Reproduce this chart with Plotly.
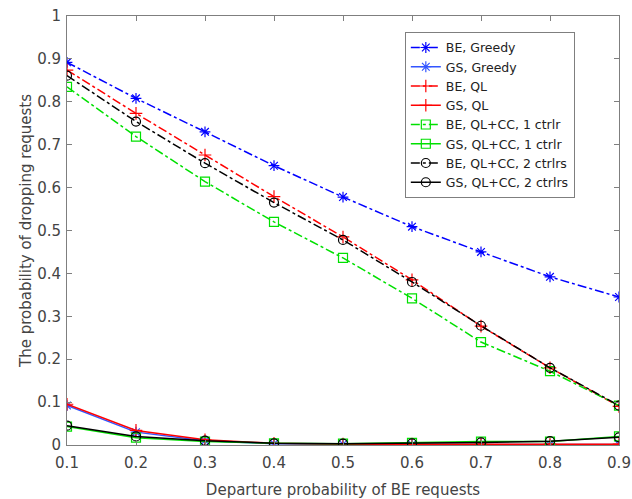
import plotly.graph_objects as go

# departure probability of BE requests
departure = [0.1, 0.2, 0.3, 0.4, 0.5, 0.6, 0.7, 0.8, 0.9]

be_greedy = [0.892, 0.808, 0.730, 0.651, 0.578, 0.509, 0.450, 0.392, 0.345]
gs_greedy = [0.092, 0.030, 0.010, 0.003, 0.002, 0.001, 0.001, 0.001, 0.001]
be_ql = [0.874, 0.773, 0.676, 0.579, 0.485, 0.385, 0.277, 0.180, 0.090]
gs_ql = [0.095, 0.034, 0.012, 0.004, 0.002, 0.002, 0.002, 0.002, 0.002]
be_cc1 = [0.835, 0.719, 0.614, 0.520, 0.436, 0.342, 0.240, 0.172, 0.092]
gs_cc1 = [0.043, 0.017, 0.008, 0.004, 0.003, 0.005, 0.008, 0.008, 0.020]
be_cc2 = [0.861, 0.754, 0.657, 0.565, 0.478, 0.380, 0.278, 0.180, 0.092]
gs_cc2 = [0.045, 0.020, 0.010, 0.004, 0.003, 0.004, 0.006, 0.009, 0.018]

y_ticks = [0, 0.1, 0.2, 0.3, 0.4, 0.5, 0.6, 0.7, 0.8, 0.9, 1]
y_ticktext = ["0", "0.1", "0.2", "0.3", "0.4", "0.5", "0.6", "0.7", "0.8", "0.9", "1"]

series = [
    ("BE, Greedy", be_greedy, "#0000ff", "dashdot", "asterisk-open"),
    ("GS, Greedy", gs_greedy, "#3355ff", "solid", "asterisk-open"),
    ("BE, QL", be_ql, "#ff0000", "dashdot", "cross-thin-open"),
    ("GS, QL", gs_ql, "#ff0000", "solid", "cross-thin-open"),
    ("BE, QL+CC, 1 ctrlr", be_cc1, "#00e000", "dashdot", "square-open"),
    ("GS, QL+CC, 1 ctrlr", gs_cc1, "#00e000", "solid", "square-open"),
    ("BE, QL+CC, 2 ctrlrs", be_cc2, "#000000", "dashdot", "circle-open"),
    ("GS, QL+CC, 2 ctrlrs", gs_cc2, "#000000", "solid", "circle-open"),
]

fig = go.Figure()
for name, vals, color, dash, sym in series:
    fig.add_trace(go.Scatter(
        x=departure, y=vals, name=name, mode="lines+markers",
        line=dict(color=color, width=1.5, dash=dash),
        marker=dict(symbol=sym, size=9, color=color, line=dict(color=color, width=1.2)),
    ))

axis_style = dict(
    showline=True, linecolor="#7f7f7f", linewidth=1, mirror="ticks",
    ticks="inside", ticklen=5, tickcolor="#7f7f7f", showgrid=False, zeroline=False,
    tickfont=dict(size=15, color="#444444"), automargin=False,
)
fig.update_xaxes(range=[0.1, 0.9], dtick=0.1, tickformat=".1f", ticklabelstandoff=4,
                 title=dict(text="Departure probability of BE requests",
                            font=dict(size=15, color="#444444")),
                 **axis_style)
fig.update_yaxes(range=[0, 1], tickvals=y_ticks, ticktext=y_ticktext, ticklabelstandoff=2,
                 title=dict(text="The probability of dropping requests", standoff=1,
                            font=dict(size=15, color="#444444")),
                 **axis_style)

fig.update_layout(
    width=632, height=499,
    margin=dict(l=67, r=13, t=16, b=54),
    paper_bgcolor="white", plot_bgcolor="white",
    font=dict(family="DejaVu Sans", color="#222222"),
    legend=dict(x=0.612, y=0.963, xanchor="left", yanchor="top",
                bgcolor="white", bordercolor="#7f7f7f", borderwidth=1,
                font=dict(size=12.5, color="#222222"), tracegroupgap=0),
)

# the page's default body margin would shift the figure by a few pixels
fig.write_html("out.html", config={"displayModeBar": False},
               post_script="document.body.style.margin='0';")
